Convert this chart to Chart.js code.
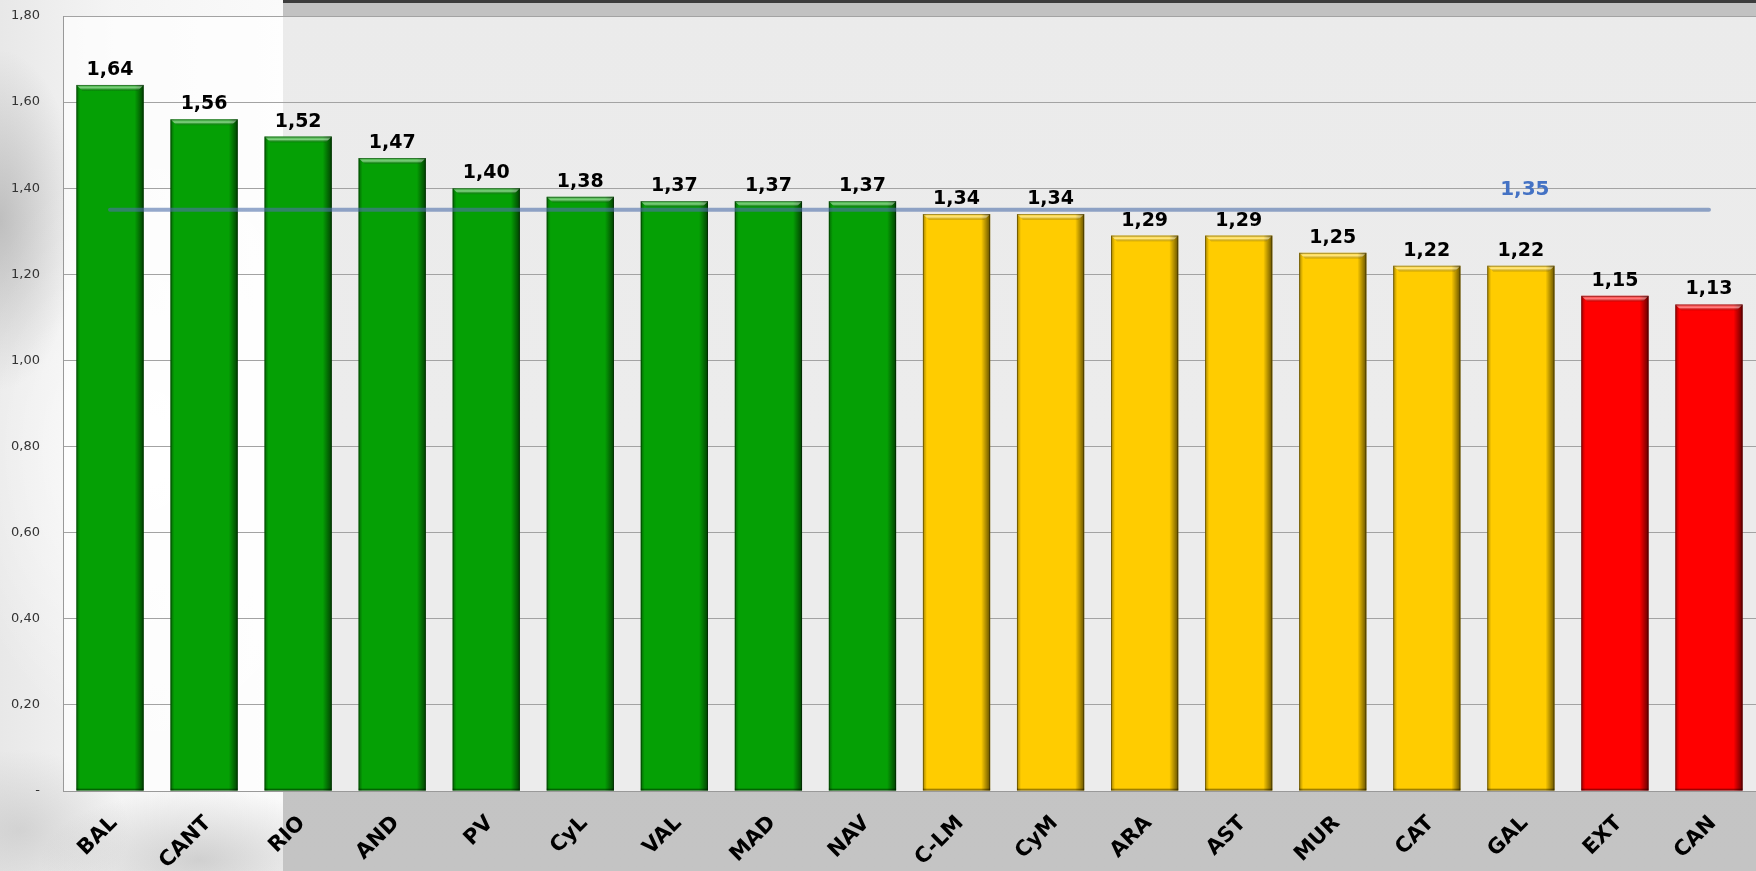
<!DOCTYPE html>
<html>
<head>
<meta charset="utf-8">
<script src="https://cdn.jsdelivr.net/npm/chart.js@4/dist/chart.umd.min.js"></script>
<style>
  html, body { margin: 0; padding: 0; }
  body { width: 1756px; height: 871px; overflow: hidden; position: relative;
         background: linear-gradient(180deg, #3c3c3c 0, #3c3c3c 3px, #c2c2c2 3px, #c4c4c4 100%); }
  #left-panel { position: absolute; left: 0; top: 0; width: 283px; height: 871px;
    background:
      radial-gradient(ellipse 80px 170px at 0px 220px, rgba(150,150,150,0.5), rgba(150,150,150,0) 100%),
      radial-gradient(ellipse 160px 70px at 200px 860px, rgba(160,160,160,0.45), rgba(160,160,160,0) 100%),
      radial-gradient(ellipse 110px 80px at 20px 830px, rgba(175,175,175,0.4), rgba(175,175,175,0) 100%),
      radial-gradient(ellipse 200px 300px at 150px 450px, rgba(255,255,255,0.9), rgba(255,255,255,0) 100%),
      linear-gradient(90deg, #e8e8e8 0, #f4f4f4 40%, #fafafa 100%); }
  #wrap { position: absolute; left: 0; top: 0; width: 1756px; height: 871px; }
</style>
</head>
<body>
<div id="left-panel"></div>
<div id="wrap"><canvas id="chart"></canvas></div>
<script>
const regions = ["BAL", "CANT", "RIO", "AND", "PV", "CyL", "VAL", "MAD", "NAV",
  "C-LM", "CyM", "ARA", "AST", "MUR", "CAT", "GAL", "EXT", "CAN"];
const ratios = [1.64, 1.56, 1.52, 1.47, 1.40, 1.38, 1.37, 1.37, 1.37,
  1.34, 1.34, 1.29, 1.29, 1.25, 1.22, 1.22, 1.15, 1.13];
const average = 1.35;
const yMin = 0;
const yMax = 1.8;
const yStep = 0.2;

function fmt(v) {
  return v.toFixed(2).replace(".", ",");
}

// green above the average, yellow from 1,20, red below
function barColor(v) {
  if (v >= average) return "#05a005";
  if (v >= 1.2) return "#ffcc00";
  return "#ff0000";
}

// light wash over the plot area
const plotBackground = {
  id: "plotBackground",
  beforeDraw(chart) {
    const { ctx, chartArea: a } = chart;
    ctx.save();
    ctx.fillStyle = "rgba(255,255,255,0.68)";
    ctx.fillRect(a.left, a.top, a.right - a.left, a.bottom - a.top);
    ctx.restore();
  },
};

// bevelled edges on the bars, then the value labels
const bevels = {
  id: "bevels",
  afterDatasetDraw(chart, args) {
    const meta = chart.getDatasetMeta(args.index);
    if (meta.type !== "bar") return;
    const ctx = chart.ctx;
    ctx.save();
    meta.data.forEach((bar) => {
      const l = bar.x - bar.width / 2, r = bar.x + bar.width / 2;
      const t = bar.y, b = bar.base;
      const bv = 6;
      // right shade
      let g = ctx.createLinearGradient(r - 9, 0, r, 0);
      g.addColorStop(0, "rgba(0,0,0,0)");
      g.addColorStop(1, "rgba(0,0,0,0.6)");
      ctx.fillStyle = g;
      ctx.fillRect(r - 9, t, 9, b - t);
      // left shade
      g = ctx.createLinearGradient(l, 0, l + 4, 0);
      g.addColorStop(0, "rgba(0,0,0,0.35)");
      g.addColorStop(1, "rgba(0,0,0,0)");
      ctx.fillStyle = g;
      ctx.fillRect(l, t, 4, b - t);
      // top highlight
      ctx.beginPath();
      ctx.moveTo(l, t);
      ctx.lineTo(r, t);
      ctx.lineTo(r - bv, t + bv);
      ctx.lineTo(l + bv, t + bv);
      ctx.closePath();
      g = ctx.createLinearGradient(0, t, 0, t + bv);
      g.addColorStop(0, "rgba(255,255,255,0.2)");
      g.addColorStop(0.5, "rgba(255,255,255,0.5)");
      g.addColorStop(1, "rgba(0,0,0,0.12)");
      ctx.fillStyle = g;
      ctx.fill();
      // bottom edge
      ctx.fillStyle = "rgba(0,0,0,0.25)";
      ctx.fillRect(l, b - 2, r - l, 2);
      ctx.strokeStyle = "rgba(0,0,0,0.35)";
      ctx.lineWidth = 1;
      ctx.strokeRect(l + 0.5, t + 0.5, r - l - 1, b - t - 1);
    });
    ctx.restore();
  },
  afterDatasetsDraw(chart) {
    const ctx = chart.ctx;
    ctx.save();
    ctx.textAlign = "center";
    ctx.textBaseline = "alphabetic";
    const barMeta = chart.getDatasetMeta(1);
    ctx.font = "bold 19px 'DejaVu Sans'";
    ctx.fillStyle = "#000";
    barMeta.data.forEach((bar, i) => {
      ctx.fillText(fmt(ratios[i]), bar.x, bar.y - 10);
    });
    // average label over GAL
    const lineMeta = chart.getDatasetMeta(0);
    const p = lineMeta.data[15];
    ctx.font = "bold 20px 'DejaVu Sans'";
    ctx.fillStyle = "#4472c4";
    ctx.fillText(fmt(average), p.x + 4, p.y - 15);
    ctx.restore();
  },
};

new Chart(document.getElementById("chart"), {
  data: {
    labels: regions,
    datasets: [
      {
        type: "line",
        label: "media",
        data: regions.map(() => average),
        borderColor: "rgba(78,112,170,0.6)",
        borderWidth: 4,
        borderCapStyle: "round",
        pointRadius: 0,
        order: 0,
      },
      {
        type: "bar",
        label: "ratio",
        data: ratios,
        backgroundColor: ratios.map(barColor),
        borderWidth: 0,
        categoryPercentage: 1,
        barPercentage: 0.715,
        order: 1,
      },
    ],
  },
  options: {
    responsive: true,
    maintainAspectRatio: false,
    animation: false,
    layout: { padding: { top: 16, right: 0, left: 0, bottom: 0 } },
    plugins: { legend: { display: false }, tooltip: { enabled: false } },
    scales: {
      x: {
        grid: { display: false },
        border: { color: "#999999", width: 1 },
        ticks: {
          color: "#000",
          font: { family: "'DejaVu Sans'", size: 21, weight: "bold" },
          maxRotation: 45,
          minRotation: 45,
          padding: 12,
          labelOffset: 4,
        },
        afterFit(scale) { scale.height = 80; },
      },
      y: {
        min: yMin,
        max: yMax,
        grid: { color: "#a3a3a3", lineWidth: 1, drawTicks: false },
        border: { color: "#999999", width: 1 },
        ticks: {
          stepSize: yStep,
          padding: 23,
          color: "#333",
          font: { family: "'DejaVu Sans'", size: 13 },
          callback: (v) => (v === 0 ? "-" : fmt(v)),
        },
        afterFit(scale) {
          scale.width = 63;
          // the label gap must not push the plot down
          scale.paddingTop = 8;
          scale.paddingBottom = 8;
        },
      },
    },
  },
  plugins: [plotBackground, bevels],
});
</script>
</body>
</html>
